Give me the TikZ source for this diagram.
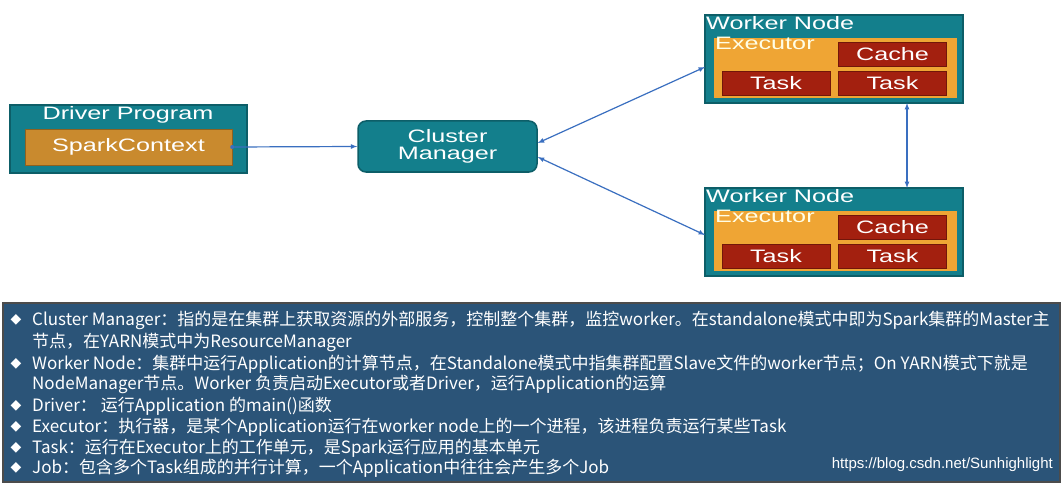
\documentclass[tikz,border=0pt]{standalone}
\usepackage{fontspec}
\setmainfont{Liberation Sans}
\newfontfamily\cjk{Noto Sans CJK SC}
\newfontfamily\symfont{DejaVu Sans}
\usetikzlibrary{positioning}
\definecolor{tealbox}{HTML}{137F8C}
\definecolor{tealdark}{HTML}{0D5E68}
\definecolor{ctxbrown}{HTML}{C98A2E}
\definecolor{execorange}{HTML}{EFA534}
\definecolor{taskred}{HTML}{A3200F}
\definecolor{linkblue}{HTML}{3A6FC0}
\definecolor{panelblue}{HTML}{2B5478}
\newcommand{\wide}[1]{\scalebox{1.4}[1]{#1}}
\tikzset{
  frame/.style={fill=tealbox, draw=tealdark, line width=1.5pt},
  redbox/.style={fill=taskred, draw=taskred!70!black, text=white, font=\fontsize{18}{18}\selectfont,
    minimum width=108pt, minimum height=24pt, inner sep=0pt},
  title/.style={text=white, font=\fontsize{18}{18}\selectfont, anchor=north west, inner sep=1pt},
  link/.style={linkblue, line width=1.2pt, <->, >=latex},
  infotext/.style={text=white, anchor=west, inner sep=0pt, font=\cjk\fontsize{17}{17}\selectfont}
}
\begin{document}
\begin{tikzpicture}[x=1pt,y=-1pt]
\useasboundingbox (0,0) rectangle (1063,484);
\fill[white] (0,0) rectangle (1063,484);
% driver
\draw[frame] (10,105) rectangle (247,173);
\node[title, anchor=north] (drv) at (128,105) {\wide{Driver Program}};
\node[fill=ctxbrown, draw=ctxbrown!70!black, text=white, font=\fontsize{18}{18}\selectfont,
  minimum width=207pt, minimum height=36pt, inner sep=0pt] (ctx) at (128.5,147) {\wide{SparkContext}};
% cluster manager
\node[frame, rounded corners=8pt, minimum width=179pt, minimum height=51pt, inner sep=0pt,
  text=white, align=center, font=\fontsize{18}{17}\selectfont] (cm) at (447.5,146.5) {\wide{Cluster}\\\wide{Manager}};
% workers
\foreach \n/\y in {1/15, 2/188} {
  \draw[frame] (705,\y) rectangle (963,\y+88);
  \node[title] (wn\n) at (705,\y) {\wide{Worker Node}};
  \fill[execorange] (714,\y+23) rectangle (957,\y+83);
  \node[title, text=white!90!yellow] (ex\n) at (714,\y+21) {\wide{Executor}};
  \node[redbox] (cache\n) at (892.5,\y+39) {\wide{Cache}};
  \node[redbox] (ta\n) at (776,\y+68) {\wide{Task}};
  \node[redbox] (tb\n) at (892.5,\y+68) {\wide{Task}};
}
\coordinate (w1l) at (705,67);
\coordinate (w2l) at (705,235);
\coordinate (w1b) at (907,103);
\coordinate (w2t) at (907,188);
\draw[linkblue, line width=1.2pt, -latex] (ctx.east) -- (cm.west);
\fill[linkblue] (ctx.east) circle (2pt);
\draw[link] (cm.east |- 0,143) -- (w1l);
\draw[link] (cm.east |- 0,157) -- (w2l);
\draw[link] (w1b) -- (w2t);
% info panel
\draw[fill=panelblue, draw=black!70, line width=2pt] (3,303) rectangle (1060,482);
\foreach \i/\y/\t in {
  a/320/{Cluster Manager：指的是在集群上获取资源的外部服务，控制整个集群，监控worker。在standalone模式中即为Spark集群的Master主},
  b/364/{Worker Node：集群中运行Application的计算节点，在Standalone模式中指集群配置Slave文件的worker节点；On YARN模式下就是},
  c/406/{Driver：\ 运行Application 的main()函数},
  d/427/{Executor：执行器，是某个Application运行在worker node上的一个进程，该进程负责运行某些Task},
  e/448/{Task：运行在Executor上的工作单元，是Spark运行应用的基本单元},
  f/468/{Job：包含多个Task组成的并行计算，一个Application中往往会产生多个Job}} {
  \node[text=white, font=\symfont\fontsize{14}{14}\selectfont, inner sep=0pt] (dia\i) at (16,\y) {◆};
  \node[infotext] (line\i) at (32,\y) {\t};
}
\node[infotext] (linea2) at (32,342) {节点，在YARN模式中为ResourceManager};
\node[infotext] (lineb2) at (32,384) {NodeManager节点。Worker 负责启动Executor或者Driver，运行Application的运算};
\node[text=white, anchor=east, inner sep=0pt, font=\fontsize{15}{15}\selectfont] (url) at (1053,465) {https://blog.csdn.net/Sunhighlight};
\end{tikzpicture}
\end{document}
